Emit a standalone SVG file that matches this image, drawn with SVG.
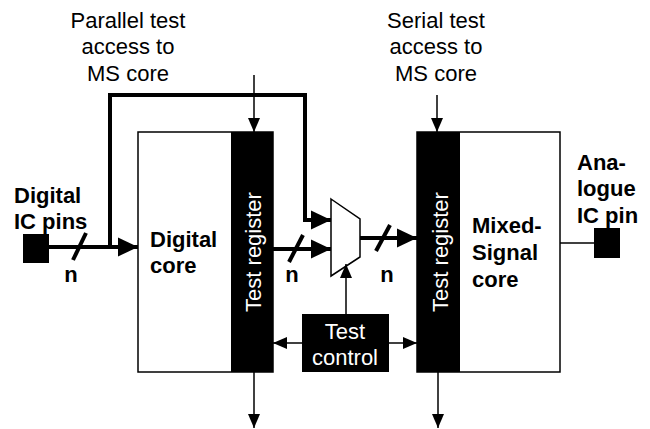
<svg xmlns="http://www.w3.org/2000/svg" width="650" height="429" viewBox="0 0 650 429">
<defs>
<marker id="big" markerUnits="userSpaceOnUse" markerWidth="22" markerHeight="20" refX="20" refY="10" orient="auto"><path d="M0,0.5 L20,10 L0,19.5 Z" fill="#000"/></marker>
<marker id="small" markerUnits="userSpaceOnUse" markerWidth="15" markerHeight="13" refX="14" refY="6.5" orient="auto"><path d="M0,0.5 L14,6.5 L0,12.5 Z" fill="#000"/></marker>
</defs>
<style>
text{font-family:"Liberation Sans",Arial,sans-serif;font-size:22px;fill:#000}
.b{font-weight:bold}
.w{fill:#fff}
.m{text-anchor:middle}
.thick{fill:none;stroke:#000;stroke-width:4}
.thin{fill:none;stroke:#000;stroke-width:1.5}
.box{fill:#fff;stroke:#000;stroke-width:1.5}
</style>
<g id="labels">
<text class="m" x="128" y="28">Parallel test</text>
<text class="m" x="128" y="54">access to</text>
<text class="m" x="128" y="81">MS core</text>
<text class="m" x="436" y="28">Serial test</text>
<text class="m" x="436" y="54">access to</text>
<text class="m" x="436" y="81">MS core</text>
<text class="b" x="14" y="203">Digital</text>
<text class="b" x="14" y="229">IC pins</text>
<text class="b" x="577" y="170">Ana-</text>
<text class="b" x="577" y="196">logue</text>
<text class="b" x="577" y="223">IC pin</text>
<text class="b m" x="71" y="282">n</text>
<text class="b m" x="292" y="282">n</text>
<text class="b m" x="387" y="282">n</text>
</g>
<g id="digital-pin"><rect x="23" y="234" width="26" height="29" fill="#000"/></g>
<g id="analogue-pin"><rect x="594" y="228" width="26" height="30" fill="#000"/></g>
<g id="digital-core">
<rect class="box" x="138" y="132" width="135" height="240"/>
<rect x="231" y="132" width="42" height="240" fill="#000"/>
<text class="b" x="150" y="247">Digital</text>
<text class="b" x="150" y="273">core</text>
<text class="w m" transform="translate(261,252) rotate(-90)">Test register</text>
</g>
<g id="ms-core">
<rect class="box" x="417" y="132" width="143" height="240"/>
<rect x="417" y="132" width="43" height="240" fill="#000"/>
<text class="b" x="472" y="233">Mixed-</text>
<text class="b" x="472" y="260">Signal</text>
<text class="b" x="472" y="287">core</text>
<text class="w m" transform="translate(448,252) rotate(-90)">Test register</text>
</g>
<g id="mux"><path class="box" d="M331,199 L360,219 L360,257 L331,276 Z"/></g>
<g id="test-control">
<rect x="302" y="314" width="87" height="58" fill="#000"/>
<text class="w m" x="345" y="339">Test</text>
<text class="w m" x="345" y="365">control</text>
</g>
<g id="connectors">
<path class="thick" d="M49,247 L138,247" marker-end="url(#big)"/>
<path class="thick" d="M110,247 L110,95 L305,95 L305,220 L331,220" marker-end="url(#big)"/>
<path class="thick" d="M273,249 L331,249" marker-end="url(#big)"/>
<path class="thick" d="M360,238 L417,238" marker-end="url(#big)"/>
<path class="thick" d="M73,260 L86,233"/>
<path class="thick" d="M289,262 L303,235"/>
<path class="thick" d="M376,251 L390,225"/>
<path class="thin" d="M254,75 L254,132" marker-end="url(#small)"/>
<path class="thin" d="M437,95 L437,132" marker-end="url(#small)"/>
<path class="thin" d="M302,343 L273,343" marker-end="url(#small)"/>
<path class="thin" d="M389,343 L417,343" marker-end="url(#small)"/>
<path class="thin" d="M346,314 L346,264" marker-end="url(#small)"/>
<path class="thin" d="M254,372 L254,428" marker-end="url(#small)"/>
<path class="thin" d="M438,372 L438,428" marker-end="url(#small)"/>
<path class="thin" d="M560,243 L594,243"/>
</g>
</svg>
